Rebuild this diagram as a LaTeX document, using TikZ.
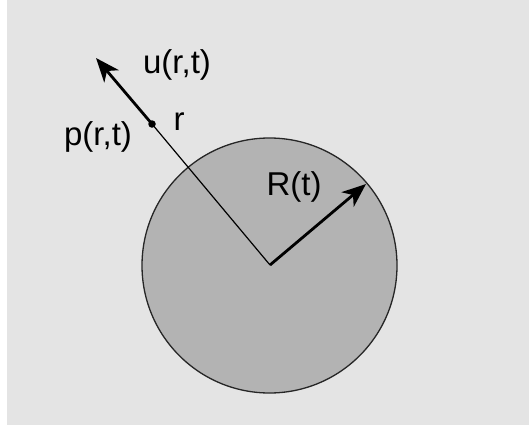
\documentclass[tikz,border=0pt]{standalone}
\usepackage{fontspec}
\setmainfont{Liberation Sans}
\usetikzlibrary{arrows.meta}
\definecolor{bgc}{HTML}{E4E4E4}
\definecolor{discc}{HTML}{B3B3B3}
\tikzset{
  lbl/.style={font=\fontsize{33}{36}\selectfont, inner sep=0pt},
  thin line/.style={line width=1.2pt, black},
  vec/.style={line width=2.8pt, black, -{Stealth[length=24pt,width=19pt,inset=7pt]}},
}
\begin{document}
\begin{tikzpicture}[x=1pt,y=-1pt]
\useasboundingbox (0,0) rectangle (529,428);
\fill[white] (0,0) rectangle (529,428);
\fill[bgc] (7,0) rectangle (529,425);
\node[circle, draw=black!85, line width=1.3pt, fill=discc, minimum size=255pt, inner sep=0pt] (disc) at (269.5,265.5) {};
\coordinate (c) at (270,265);
\coordinate (tip) at (96,58);
\coordinate (redge) at (366,184);
\node[circle, fill=black, inner sep=0pt, minimum size=7.5pt] (dot) at (152,124) {};
\draw[thin line] (c) -- (dot.center);
\draw[vec] (dot.center) -- (tip);
\draw[vec] (c) -- (redge);
\node[lbl] (u) at (177,65) {u(r,t)};
\node[lbl] (r) at (179,122) {r};
\node[lbl] (p) at (98,137) {p(r,t)};
\node[lbl] (R) at (294,187) {R(t)};
\end{tikzpicture}
\end{document}
